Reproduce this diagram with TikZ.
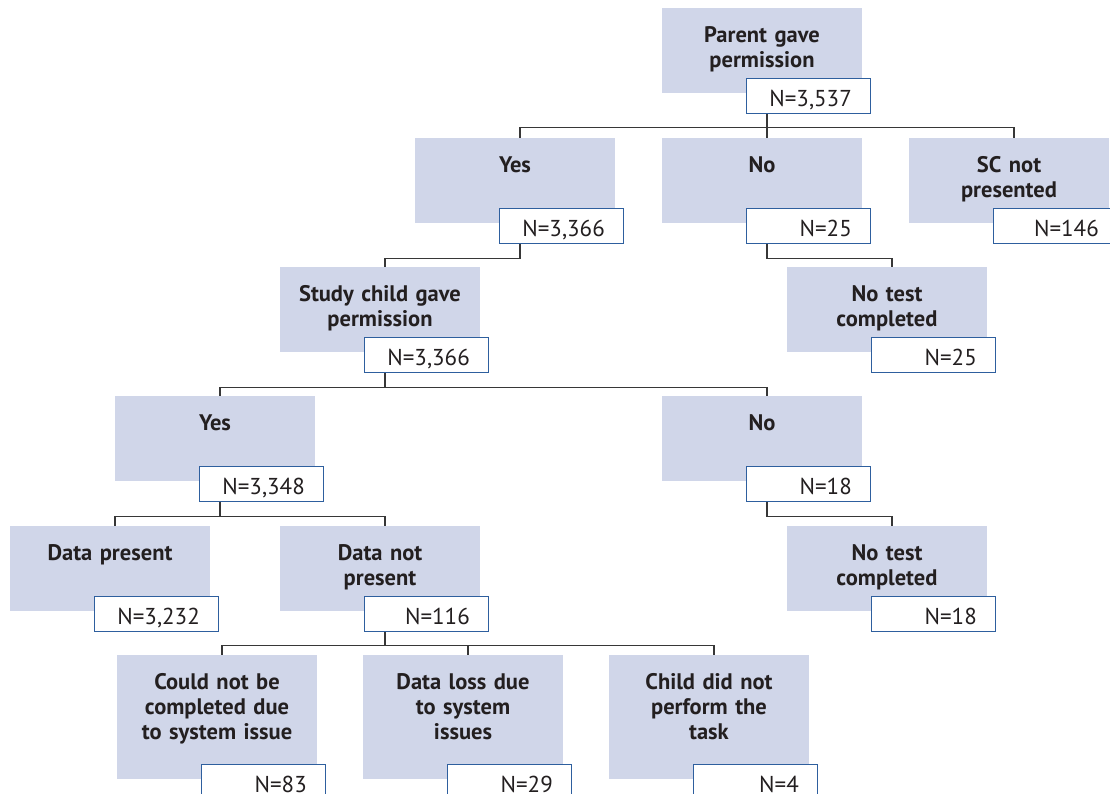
\documentclass[tikz,border=0pt]{standalone}
\usepackage{fontspec}
\setmainfont{PT Sans}
\usetikzlibrary{calc}
\definecolor{gfill}{RGB}{208,214,233}
\definecolor{nborder}{RGB}{46,95,158}
\definecolor{ink}{RGB}{35,31,32}
\definecolor{wire}{RGB}{55,55,55}
\tikzset{
  graybox/.style={fill=gfill, draw=none, minimum width=200pt, inner sep=0pt, anchor=north west},
  lbl/.style={text width=196pt, align=center, inner sep=0pt, anchor=base, text=ink,
    font=\fontsize{22.5}{25}\selectfont\bfseries},
  nbox/.style={fill=white, draw=nborder, line width=1.3pt, minimum width=124pt, minimum height=35pt, inner sep=0pt, anchor=north west},
  ntext/.style={inner sep=0pt, anchor=base east, text=ink, font=\fontsize{23}{26}\selectfont},
  wireline/.style={draw=wire, line width=1.4pt}
}
% \gbox{name}{x}{y}{height}{text}{N}
\newcommand{\gbox}[6]{%
  \node[graybox, minimum height=#4pt] (#1) at (#2,#3) {};
  \node[lbl] (#1t) at (#2+100,#3+34) {#5};
  \node[nbox] (#1n) at (#2+84,#3+#4-15) {};
  \node[ntext] (#1v) at (#2+190,#3+#4+13) {#6};
  \coordinate (#1-in) at (#2+105,#3);
}
\begin{document}
\begin{tikzpicture}[x=1pt,y=-1pt]
\useasboundingbox (0,0) rectangle (1110,793);
% row 1
\gbox{p}{662}{8}{85}{Parent gave\\permission}{N=3,537}
% row 2
\gbox{yes}{415}{138}{85}{Yes}{N=3,366}
\gbox{no}{662}{138}{85}{No}{N=25}
\gbox{sc}{909}{138}{85}{SC not\\presented}{N=146}
% row 3
\gbox{study}{280}{267}{85}{Study child gave\\permission}{N=3,366}
\gbox{nt1}{787}{267}{85}{No test\\completed}{N=25}
% row 4
\gbox{yes2}{115}{396}{85}{Yes}{N=3,348}
\gbox{no2}{662}{396}{85}{No}{N=18}
% row 5
\gbox{dp}{10}{526}{85}{Data present}{N=3,232}
\gbox{dnp}{280}{526}{85}{Data not\\present}{N=116}
\gbox{nt2}{787}{526}{85}{No test\\completed}{N=18}
% row 6
\gbox{cnb}{117}{655}{124}{Could not be\\completed due\\to system issue}{N=83}
\gbox{dl}{363}{655}{124}{Data loss due\\to system\\issues}{N=29}
\gbox{cdn}{609}{655}{124}{Child did not\\perform the\\task}{N=4}
% connectors
\draw[wireline] (pn.south -| p-in) -- ++(0,13) -| (yes-in);
\draw[wireline] (pn.south -| p-in) -- ++(0,13) -| (no-in);
\draw[wireline] (pn.south -| p-in) -- ++(0,13) -| (sc-in);
\draw[wireline] (yesn.south -| yes-in) -- ++(0,14) -| (study-in);
\draw[wireline] (non.south -| no-in) -- ++(0,14) -| (nt1-in);
\draw[wireline] (studyn.south -| study-in) -- ++(0,14) -| (yes2-in);
\draw[wireline] (studyn.south -| study-in) -- ++(0,14) -| (no2-in);
\draw[wireline] (yes2n.south -| yes2-in) -- ++(0,14) -| (dp-in);
\draw[wireline] (yes2n.south -| yes2-in) -- ++(0,14) -| (dnp-in);
\draw[wireline] (no2n.south -| no2-in) -- ++(0,14) -| (nt2-in);
\draw[wireline] (dnpn.south -| dnp-in) -- ++(0,13) -| (cnb-in);
\draw[wireline] (dnpn.south -| dnp-in) -- ++(0,13) -| (dl-in);
\draw[wireline] (dnpn.south -| dnp-in) -- ++(0,13) -| (cdn-in);
\end{tikzpicture}
\end{document}
